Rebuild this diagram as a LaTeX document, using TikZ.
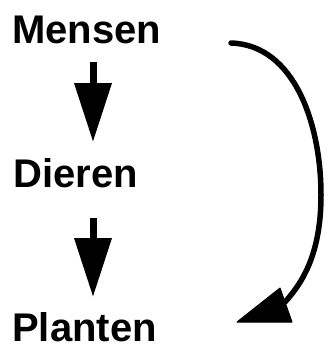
\documentclass[tikz,border=0pt]{standalone}
\usepackage{fontspec}
\setmainfont{Liberation Sans}
\usetikzlibrary{arrows.meta}
\tikzset{
  word/.style={anchor=base west, inner sep=0pt, text depth=0pt, font=\fontsize{40}{48}\selectfont\bfseries},
  downarrow/.style={line width=7pt, -{Triangle[width=36pt,length=59pt]}},
  curveline/.style={line width=5.5pt, line cap=round},
  curvehead/.style={fill=black, draw=black, line width=1pt, line join=round}
}
\begin{document}
\begin{tikzpicture}[x=1pt,y=-1pt]
\useasboundingbox (0,0) rectangle (325,348);
\node[word] (m) at (12,43) {Mensen};
\node[word] (d) at (13,187) {Dieren};
\node[word] (p) at (12,341) {Planten};
\coordinate (a1s) at (93,62);
\coordinate (a1e) at (93,142);
\coordinate (a2s) at (93,218);
\coordinate (a2e) at (93,297);
\draw[downarrow] (a1s) -- (a1e);
\draw[downarrow] (a2s) -- (a2e);
\coordinate (cs) at (231,43);
\coordinate (cm) at (321,195);
\coordinate (ce) at (285,302);
\draw[curveline] (cs) .. controls (295,45) and (321,125) .. (cm) .. controls (321,250) and (305,280) .. (ce);
\coordinate (t1) at (237,322);
\coordinate (t2) at (280,288);
\coordinate (t3) at (292,322);
\filldraw[curvehead] (t1) -- (t2) -- (t3) -- cycle;
\end{tikzpicture}
\end{document}
